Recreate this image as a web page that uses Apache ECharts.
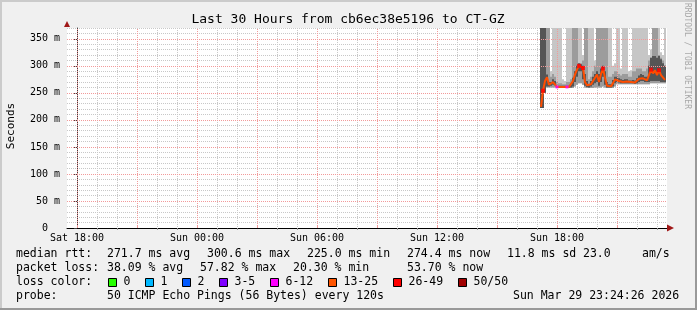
<!DOCTYPE html>
<html><head><meta charset="utf-8">
<script src="https://cdn.jsdelivr.net/npm/echarts@6/dist/echarts.min.js"></script>
<style>html,body{margin:0;padding:0;background:#f0f0f0}#c{width:697px;height:310px}</style>
</head><body><div id="c"></div>
<script>
// ---- data (hours relative to Sat 18:00) ----
const times = [23.2,23.3,23.4,23.5,23.6,23.7,23.8,23.9,
  24.0,24.1,24.2,24.3,24.4,24.5,24.6,24.7,24.8,24.9,
  25.0,25.1,25.2,25.3,25.4,25.5,25.6,25.7,25.8,25.9,
  26.0,26.1,26.2,26.3,26.4,26.5,26.6,26.7,26.8,26.9,
  27.0,27.1,27.2,27.3,27.4,27.5,27.6,27.7,27.8,27.9,
  28.0,28.1,28.2,28.3,28.4,28.5,28.6,28.7,28.8,28.9,
  29.0,29.1,29.2,29.3,29.4];
const medianRtt = [224,254,272,279,265,266,270,268,261,261,
  261,261,261,261,261,262,272,284,293,300,
  298,296,270,264,261,266,272,278,284,270,
  285,295,278,263,261,262,268,275,274,272,
  271,270,271,271,270,270,270,269,272,276,
  279,277,274,273,275,293,286,292,283,292,
  283,280,274];
// smoke: min ping, upper-quartile ping, max ping (clipped at top), dense band around median
const smokeLow = [222,222,250,260,260,260,260,260,259,259,
  259,259,259,259,259,259,259,262,265,268,
  268,265,260,259,259,259,259,260,260,260,
  260,262,260,259,259,259,259,262,266,266,
  266,266,266,266,266,266,266,266,266,266,
  266,266,266,266,266,268,268,268,268,268,
  268,268,268];
const smokeMid = [370,370,370,370,370,280,285,280,270,268,
  268,266,266,270,270,275,370,370,370,300,
  305,310,370,370,275,280,290,300,370,370,
  370,370,370,370,280,280,285,290,290,285,
  282,285,285,285,280,280,290,290,295,295,
  295,290,290,295,310,315,370,370,370,320,
  315,310,300];
const smokeHigh = [370,370,370,370,370,290,370,370,370,370,
  370,275,272,370,370,370,370,370,370,370,
  370,320,370,370,370,370,370,310,370,370,
  370,370,370,370,370,370,300,305,370,370,
  295,370,370,370,290,292,370,370,370,370,
  370,370,370,370,320,330,370,370,370,370,
  325,320,370];
const denseLow = [222,222,250,262,262,263,265,264,260,260,
  260,260,260,260,260,260,262,270,280,290,
  290,275,263,261,260,262,265,268,270,263,
  270,280,265,260,260,260,262,268,270,269,
  268,268,268,268,268,268,268,267,268,270,
  272,272,270,270,270,272,272,272,272,272,
  270,270,270];
const denseHigh = [370,370,370,284,270,270,275,272,264,263,
  263,263,263,263,263,265,278,290,300,305,
  303,300,285,272,265,272,280,285,290,285,
  295,300,290,270,266,266,274,280,280,277,
  275,274,275,275,273,273,274,273,277,282,
  285,283,280,280,300,315,318,318,315,318,
  312,305,300];
const loss26Times = [23.3,25.1,25.3,26.3,28.7,29.1];
const loss26Rtt = [254,300,296,295,293,292];
const loss6Times = [24.0,24.5];
const loss6Rtt = [261,261];

const minorHourTicks = [1,2,4,5,7,8,10,11,13,14,16,17,19,20,22,23,25,26,28,29];
const majorHourTicks = [0,3,6,9,12,15,18,21,24,27];
const xLabelValues = [0,6,12,18,24];
const xLabelTexts = ['Sat 18:00','Sun 00:00','Sun 06:00','Sun 12:00','Sun 18:00'];
const minorRttTicks = [10,20,30,40,60,70,80,90,110,120,130,140,160,170,180,190,210,220,230,240,
  260,270,280,290,310,320,330,340,360,370];
const majorRttTicks = [50,100,150,200,250,300,350];
const yLabelValues = [0,50,100,150,200,250,300,350];
const yLabelTexts = ['0  ','50 m','100 m','150 m','200 m','250 m','300 m','350 m'];

const titleText = 'Last 30 Hours from cb6ec38e5196 to CT-GZ';
const row1 = ['median rtt:','271.7 ms avg','300.6 ms max','225.0 ms min','274.4 ms now','11.8 ms sd','23.0','am/s'];
const row2 = ['packet loss:','38.09 % avg','57.82 % max','20.30 % min','53.70 % now'];
const lossLabels = ['0','1','2','3-5','6-12','13-25','26-49','50/50'];
const lossColors = ['#26ff00','#00b8ff','#0059ff','#7e00ff','#ff00ff','#ff5500','#ff0000','#a10000'];
const row4 = ['probe:','50 ICMP Echo Pings (56 Bytes) every 120s','Sun Mar 29 23:24:26 2026'];

// ---- layout ----
const MONO = '"DejaVu Sans Mono", monospace';
const row1X = [16,107,207,307,407,507,583,642];
const row2X = [16,107,200,293,407];
const boxX = [108.5,145.5,182.5,219.5,270.5,328.5,393.5,458.5];
const row4X = [16,107,513];
const rowY = [254.5,268.5,282.5,296.5];
const MAJOR = '#f29a9a';
const MINOR = '#c8c8c8';
const MAJOR_STYLE = {color:MAJOR, type:[1,1], width:1, opacity:1};

const chart = echarts.init(document.getElementById('c'), null, {renderer:'canvas'});

function renderSmoke(params, api) {
  const x = api.value(0);
  const w = api.size([0.1, 0])[0];
  const lo = api.coord([x, api.value(1)]);
  const mid = api.coord([x, api.value(2)]);
  const hi = api.coord([x, api.value(3)]);
  const dl = api.coord([x, api.value(4)]);
  const dh = api.coord([x, api.value(5)]);
  const x0 = lo[0] - w/2;
  return {type:'group', children:[
    {type:'rect', shape:{x:x0, y:hi[1], width:w, height:lo[1]-hi[1]}, style:{fill:'#c6c6c6'}},
    {type:'rect', shape:{x:x0, y:mid[1], width:w, height:lo[1]-mid[1]}, style:{fill:'#9c9c9c'}},
    {type:'rect', shape:{x:x0, y:dh[1], width:w, height:dl[1]-dh[1]}, style:{fill:'#555555'}}
  ]};
}

const txt = (s, x, y, size) => ({type:'text', x:x, y:y, silent:true,
  style:{text:s, fill:'#000', font: size + 'px ' + MONO, align:'left', verticalAlign:'middle'}});

const graphics = [
  {type:'rect', shape:{x:0,y:0,width:697,height:2}, style:{fill:'#cbcbcb'}},
  {type:'rect', shape:{x:0,y:0,width:2,height:310}, style:{fill:'#cbcbcb'}},
  {type:'rect', shape:{x:0,y:308,width:697,height:2}, style:{fill:'#999'}},
  {type:'rect', shape:{x:695,y:0,width:2,height:310}, style:{fill:'#999'}},
  {type:'polygon', shape:{points:[[64,27],[70,27],[67,21]]}, style:{fill:'#a01818'}, z:10},
  {type:'polygon', shape:{points:[[667,224.5],[667,231.5],[674,228]]}, style:{fill:'#a01818'}, z:10},
  {type:'text', x:348, y:19.5, style:{text:titleText, fill:'#000', font:'13px '+MONO, align:'center', verticalAlign:'middle'}},
  {type:'text', x:11, y:126, rotation:Math.PI/2, style:{text:'Seconds', fill:'#000', font:'11px '+MONO, align:'center', verticalAlign:'middle'}},
  {type:'text', x:687.5, y:56, rotation:-Math.PI/2, style:{text:'RRDTOOL / TOBI OETIKER', fill:'#a8a8a8', font:'8px '+MONO, align:'center', verticalAlign:'middle'}}
];
row1.forEach((s,i)=>graphics.push(txt(s,row1X[i],rowY[0],11.5)));
row2.forEach((s,i)=>graphics.push(txt(s,row2X[i],rowY[1],11.5)));
graphics.push(txt('loss color:',16,rowY[2],11.5));
lossLabels.forEach((s,i)=>{
  graphics.push({type:'rect', shape:{x:boxX[i], y:rowY[2]-4, width:8, height:8}, style:{fill:lossColors[i], stroke:'#000', lineWidth:1}});
  graphics.push(txt(s, boxX[i]+15, rowY[2], 11.5));
});
row4.forEach((s,i)=>graphics.push(txt(s,row4X[i],rowY[3],11.5)));

const majorGridLines = majorHourTicks.map(v=>({xAxis:v, lineStyle:MAJOR_STYLE}))
  .concat(majorRttTicks.map(v=>({yAxis:v, lineStyle:MAJOR_STYLE})));

const option = {
  backgroundColor:'#f0f0f0',
  animation:false,
  color:[MAJOR],
  textStyle:{fontFamily:MONO},
  grid:{left:67, right:30, top:28, bottom:82, show:true, backgroundColor:'#fff', borderWidth:0},
  xAxis:[
    {type:'value', min:-0.5, max:29.5,
     axisLine:{show:true, onZero:false, lineStyle:{color:'#000', width:1}},
     axisTick:{show:true, customValues:minorHourTicks, length:2, lineStyle:{color:'#999'}},
     axisLabel:{show:false},
     splitLine:{show:true, lineStyle:{color:MINOR, type:[1,1], width:1}}},
    {type:'value', min:-0.5, max:29.5, position:'bottom',
     axisLine:{show:false, onZero:false},
     axisTick:{show:true, customValues:majorHourTicks, length:2, inside:true, lineStyle:{color:MAJOR}},
     axisLabel:{show:true, customValues:xLabelValues, margin:5, fontSize:10, color:'#000', fontFamily:MONO,
       formatter:v=>{const k=xLabelValues.indexOf(v); return k>=0?xLabelTexts[k]:'';}},
     splitLine:{show:false}}
  ],
  yAxis:[
    {type:'value', min:0, max:370,
     axisLine:{show:false}, axisTick:{show:false, customValues:minorRttTicks}, axisLabel:{show:false},
     splitLine:{show:true, lineStyle:{color:MINOR, type:[1,1], width:1}}},
    {type:'value', min:0, max:370, position:'left',
     axisLine:{show:true, lineStyle:{color:'#404040', width:1}},
     axisTick:{show:true, customValues:yLabelValues, length:3, lineStyle:{color:'#404040'}},
     axisLabel:{show:true, customValues:yLabelValues, margin:7, fontSize:10, color:'#000', fontFamily:MONO,
       formatter:v=>{const k=yLabelValues.indexOf(v); return k>=0?yLabelTexts[k]:'';}},
     splitLine:{show:false}}
  ],
  series:[
    {type:'line', name:'grid', xAxisIndex:0, yAxisIndex:0, data:[], z:1, silent:true,
     itemStyle:{color:MAJOR}, lineStyle:{color:MAJOR},
     markLine:{silent:true, symbol:'none', animation:false, label:{show:false},
       lineStyle:MAJOR_STYLE, emphasis:{disabled:true},
       data: majorGridLines}},
    {type:'custom', name:'smoke', xAxisIndex:0, yAxisIndex:0, renderItem:renderSmoke, clip:true, z:2,
     data: times.map((t,i)=>[t, smokeLow[i], smokeMid[i], smokeHigh[i], denseLow[i], denseHigh[i]])},
    {type:'line', name:'median', xAxisIndex:0, yAxisIndex:0, showSymbol:false, symbol:'none',
     lineStyle:{color:'#ff4d00', width:2}, z:5,
     data: times.map((t,i)=>[t, medianRtt[i]])},
    {type:'scatter', xAxisIndex:0, yAxisIndex:0, symbol:'rect', symbolSize:4, itemStyle:{color:'#ff0000'}, z:6,
     data: loss26Times.map((t,i)=>[t, loss26Rtt[i]])},
    {type:'scatter', xAxisIndex:0, yAxisIndex:0, symbol:'rect', symbolSize:3, itemStyle:{color:'#ff00ff'}, z:6,
     data: loss6Times.map((t,i)=>[t, loss6Rtt[i]])}
  ],
  graphic: graphics
};
chart.setOption(option);
</script></body></html>
